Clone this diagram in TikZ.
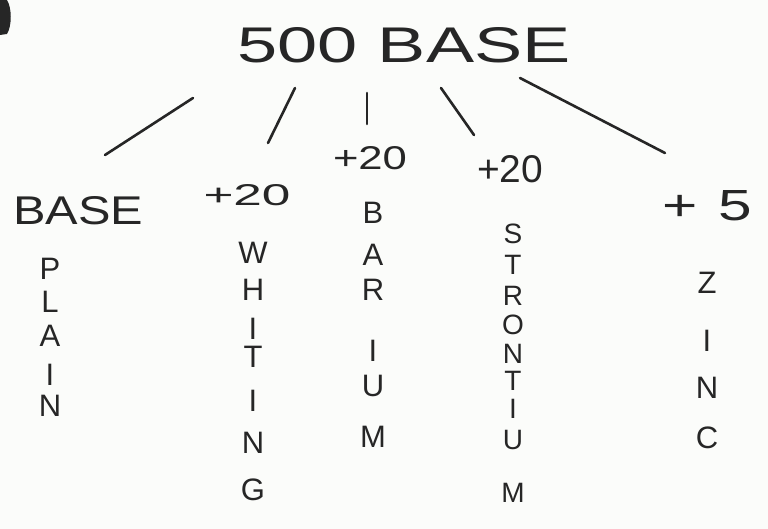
\documentclass[tikz,border=0pt]{standalone}
\usepackage{fontspec}
\setmainfont{Liberation Sans}
\usepackage{graphicx}
\definecolor{ink}{RGB}{38,38,38}
\definecolor{paper}{RGB}{251,252,250}
\newcommand{\fitto}[3]{\resizebox{#1pt}{#2pt}{#3}}
\begin{document}
\begin{tikzpicture}[x=1pt,y=-1pt,
  wire/.style={draw=ink,line width=2.6pt,line cap=round},
  lbl/.style={inner sep=0pt,text=ink,font=\fontsize{36}{36}\selectfont},
  letter/.style={inner sep=0pt,text=ink,font=\fontsize{31}{31}\selectfont},
  smallletter/.style={inner sep=0pt,text=ink,font=\fontsize{28}{28}\selectfont}]
\useasboundingbox[fill=paper] (0,0) rectangle (768,529);
% scan mark
\fill[ink] (0,0) -- (7,0) .. controls (12,8) and (12,26) .. (7,34) -- (0,35) -- cycle;
% title
\node[lbl] (title) at (404,45) {\fitto{333}{35}{500 BASE}};
% labels
\node[lbl] (base) at (78,211) {\fitto{130}{28}{BASE}};
\node[lbl] (pw) at (247,195) {\fitto{87}{21}{+20}};
\node[lbl] (pb) at (370,158) {\fitto{74}{23}{+20}};
\node[lbl] (ps) at (510,169) {\fitto{66}{27}{+20}};
\node[lbl] (pz) at (707,206) {\fitto{90}{30}{+\hspace{0.35em}5}};
% connectors
\coordinate (t1) at (193,98);  \coordinate (e1) at (105,155);
\coordinate (t2) at (295,88);  \coordinate (e2) at (268,143);
\coordinate (t3) at (367,93);  \coordinate (e3) at (367,124);
\coordinate (t4) at (441,88);  \coordinate (e4) at (474,135);
\coordinate (t5) at (520,78);  \coordinate (e5) at (665,153);
\foreach \i in {1,...,5} \draw[wire] (t\i) -- (e\i);
% vertical words
\foreach \l/\y [count=\i] in {P/269,L/302,A/336,I/375,N/406}
  \node[letter] (plain\i) at (50,\y) {\l};
\foreach \l/\y [count=\i] in {W/253,H/290,I/329,T/357,I/401,N/443,G/490}
  \node[letter] (whiting\i) at (253,\y) {\l};
\foreach \l/\y [count=\i] in {B/213,A/255,R/290,I/351,U/386,M/437}
  \node[letter] (barium\i) at (373,\y) {\l};
\foreach \l/\y [count=\i] in {S/234,T/265,R/296,O/325,N/354,T/381,I/409,U/440,M/493}
  \node[smallletter] (strontium\i) at (513,\y) {\l};
\foreach \l/\y [count=\i] in {Z/283,I/341,N/388,C/438}
  \node[letter] (zinc\i) at (707,\y) {\l};
\end{tikzpicture}
\end{document}
